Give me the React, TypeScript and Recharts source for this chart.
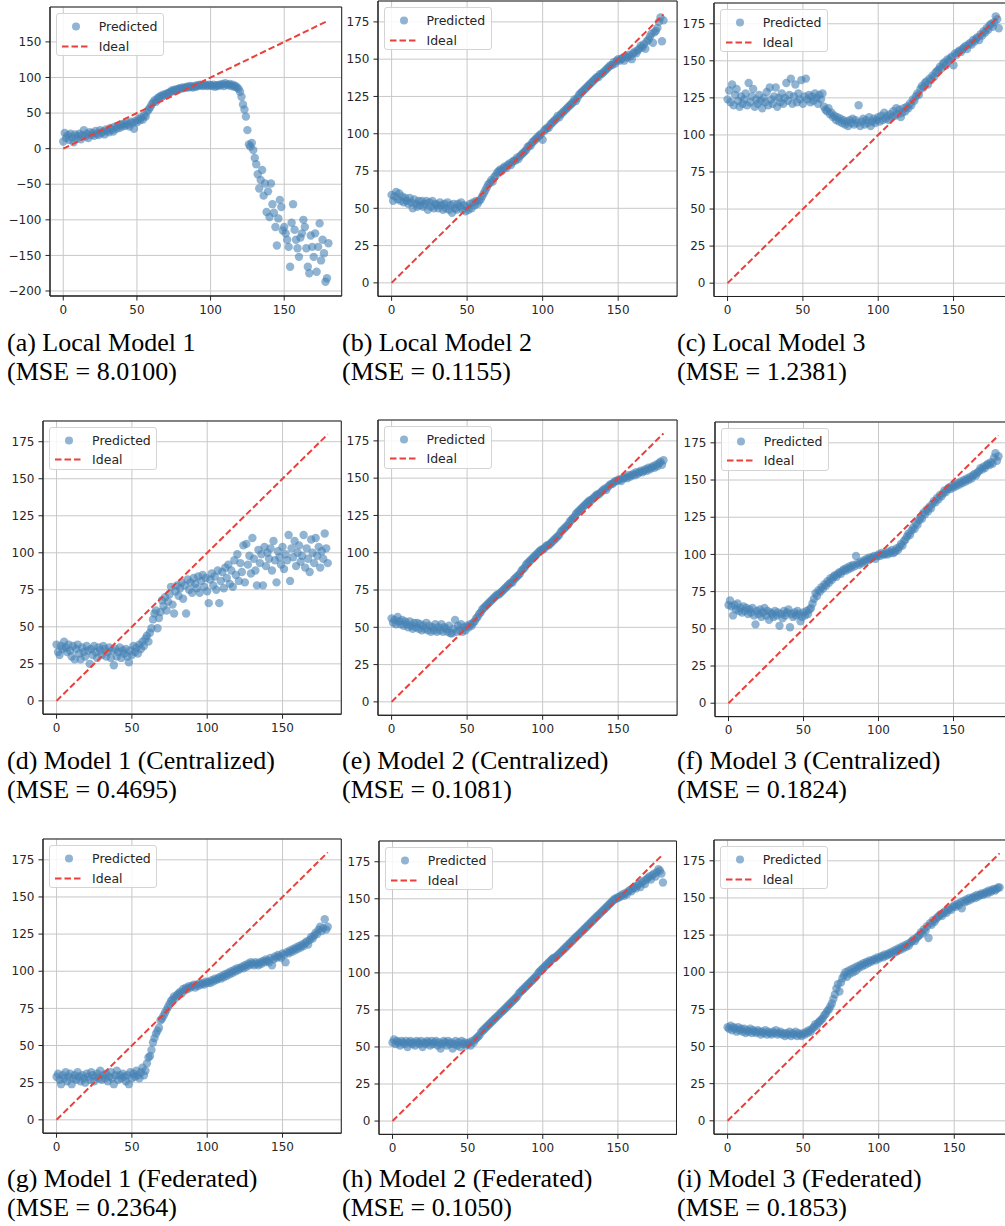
import React from 'react';
import { ScatterChart, Scatter, XAxis, YAxis, CartesianGrid, Legend, ReferenceArea } from 'recharts';

// ---------- data ----------
const XS = [
  0, 1, 2, 3, 4, 5, 6, 7, 8, 9, 10, 11, 12, 13, 14, 15, 16, 17, 18, 19, 20,
  21, 22, 23, 24, 25, 26, 27, 28, 29, 30, 31, 32, 33, 34, 35, 36, 37, 38, 39, 40,
  41, 42, 43, 44, 45, 46, 47, 48, 49, 50, 51, 52, 53, 54, 55, 56, 57, 58, 59, 60,
  61, 62, 63, 64, 65, 66, 67, 68, 69, 70, 71, 72, 73, 74, 75, 76, 77, 78, 79, 80,
  81, 82, 83, 84, 85, 86, 87, 88, 89, 90, 91, 92, 93, 94, 95, 96, 97, 98, 99, 100,
  101, 102, 103, 104, 105, 106, 107, 108, 109, 110, 111, 112, 113, 114, 115, 116, 117, 118, 119, 120,
  121, 122, 123, 124, 125, 126, 127, 128, 129, 130, 131, 132, 133, 134, 135, 136, 137, 138, 139, 140,
  141, 142, 143, 144, 145, 146, 147, 148, 149, 150, 151, 152, 153, 154, 155, 156, 157, 158, 159, 160,
  161, 162, 163, 164, 165, 166, 167, 168, 169, 170, 171, 172, 173, 174, 175, 176, 177, 178, 179, 180,
];

// (a) Local Model 1
const Y_A = [
  10, 22, 15, 19, 12, 21, 16, 9, 20, 14, 18,
  21, 13, 19, 26, 17, 21, 15, 23, 19, 22,
  18, 25, 21, 19, 26, 22, 24, 20, 27, 25,
  23, 29, 26, 24, 31, 28, 32, 29, 34, 31,
  35, 32, 37, 34, 31, 38, 36, 28, 39, 37,
  42, 40, 44, 41, 47, 45, 52, 55, 58, 62,
  65, 68, 66, 71, 72, 74, 73, 76, 75, 77,
  78, 79, 80, 82, 81, 83, 82, 84, 85, 84,
  86, 85, 86, 87, 86, 88, 87, 86, 88, 87,
  89, 88, 90, 89, 88, 90, 89, 88, 90, 89,
  88, 90, 87, 89, 88, 90, 89, 91, 88, 92,
  90, 89, 91, 88, 90, 87, 88,
  86, 84, 80, 73, 62, 55, 45, 26, 6, 3, 8, -2, -13,
  -22, -36, -56, -44, -30, -66, -49, -89, -60, -96,
  -49, -78, -90, -110, -136, -98, -72, -82, -115, -110,
  -119, -128, -138, -166, -104, -78, -114, -128, -140, -152,
  -125, -119, -100, -110, -140, -166, -175, -122, -138, -152,
  -119, -173, -138, -105, -157, -128, -147, -187, -182, -133,
];

// (b) Local Model 2
const Y_B = [
  59, 55, 58, 61, 56, 60, 55, 58, 54, 57, 55,
  53, 57, 54, 50, 56, 53, 51, 55, 52, 55,
  51, 53, 55, 49, 54, 51, 55, 50, 53, 52,
  50, 54, 52, 49, 53, 50, 54, 49, 52, 47,
  53, 50, 49, 53, 51, 54, 49, 52, 48, 51,
  49, 53, 50, 54, 52, 55, 53, 55, 56, 58,
  60, 62, 64, 66, 67, 69, 68, 71, 72, 74,
  75, 76, 75, 77, 78, 77, 79, 80, 79, 81,
  82, 82, 84, 83, 85, 86, 87, 88, 89, 91,
  92, 92, 94, 95, 96, 97, 98, 99, 100, 96,
  102, 103, 104, 104, 106, 107, 108, 109, 110, 112,
  111, 113, 114, 115, 116, 117, 118, 119, 120, 121,
  123, 122, 124, 126, 127, 128, 129, 130, 131, 132,
  133, 134, 135, 136, 137, 138, 138, 140, 140, 141,
  142, 143, 144, 145, 146, 146, 148, 147, 149, 150,
  149, 150, 151, 149, 152, 151, 153, 152, 150, 154,
  155, 154, 156, 157, 159, 158, 160, 157, 162, 163,
  165, 167, 161, 168, 169, 171, 175, 178, 162, 176,
];

// (c) Local Model 3
const Y_C = [
  124, 130, 122, 134, 120, 127, 131, 123, 119, 126, 121,
  124, 128, 120, 135, 122, 126, 131, 119, 124, 121,
  127, 123, 118, 125, 122, 129, 120, 132, 124, 121,
  126, 132, 119, 125, 122, 128, 121, 125, 135, 123,
  127, 138, 121, 126, 134, 122, 128, 124, 137, 121,
  126, 138, 124, 127, 122, 126, 123, 128, 125, 121,
  127, 124, 128, 119, 117, 116, 118, 114, 115, 112,
  113, 110, 112, 109, 111, 108, 110, 107, 109, 106,
  110, 108, 111, 107, 110, 108, 120, 106, 109, 111,
  107, 110, 108, 112, 106, 109, 111, 108, 110, 112,
  109, 113, 110, 115, 111, 113, 110, 114, 112, 116,
  113, 118, 114, 117, 112, 115, 118, 116, 119, 118,
  121, 120, 124, 123, 126, 128, 127, 131, 133, 132,
  135, 136, 134, 138, 137, 140, 139, 142, 143, 144,
  146, 145, 148, 149, 147, 151, 150, 152, 153, 147,
  155, 154, 156, 157, 156, 158, 159, 160, 158, 161,
  162, 161, 164, 163, 165, 166, 164, 168, 167, 170,
  169, 172, 171, 174, 175, 173, 176, 180, 178, 172,
];

// (d) Model 1 (Centralized)
const Y_D = [
  38, 33, 31, 37, 35, 40, 36, 33, 38, 34, 30,
  37, 28, 35, 38, 32, 28, 36, 33, 30, 37,
  34, 25, 35, 31, 37, 33, 29, 36, 34, 31,
  37, 35, 30, 33, 36, 29, 34, 24, 35, 30,
  33, 36, 29, 34, 32, 35, 30, 26, 34, 31,
  37, 33, 36, 32, 38, 35, 40, 37, 42, 44,
  40, 46, 49, 55, 59, 61, 49, 56, 60, 68,
  64, 70, 61, 67, 72, 77, 65, 59, 74, 78,
  71, 76, 80, 69, 78, 59, 82, 75, 80, 73,
  83, 79, 76, 84, 73, 81, 85, 77, 83, 74,
  66, 82, 86, 78, 84, 75, 88, 66, 81, 87,
  76, 90, 83, 92, 79, 88, 77, 95, 85, 99,
  81, 93, 87, 105, 80, 106, 92, 98, 86, 110,
  96, 88, 78, 102, 93, 99, 78, 104, 91, 100,
  96, 103, 88, 108, 95, 80, 101, 97, 92, 104,
  89, 99, 95, 112, 81, 103, 97, 108, 91, 100,
  105, 94, 98, 112, 90, 103, 96, 87, 109, 100,
  93, 110, 98, 104, 90, 101, 96, 113, 103, 93,
];

// (e) Model 2 (Centralized)
const Y_E = [
  56, 53, 55, 52, 57, 54, 52, 55, 51, 54, 52,
  50, 54, 51, 49, 53, 50, 53, 49, 52, 48,
  51, 49, 53, 48, 51, 47, 50, 48, 52, 47,
  50, 48, 52, 47, 50, 49, 47, 51, 46, 46,
  49, 55, 47, 51, 48, 52, 47, 50, 48, 51,
  50, 52, 51, 53, 54, 56, 57, 59, 60, 62,
  63, 64, 65, 66, 67, 68, 69, 70, 71, 72,
  72, 73, 74, 75, 76, 77, 78, 79, 80, 80,
  82, 83, 84, 85, 86, 88, 89, 90, 92, 93,
  94, 95, 96, 97, 98, 99, 100, 101, 102, 102,
  103, 104, 105, 105, 106, 107, 108, 109, 110, 111,
  112, 114, 115, 116, 117, 118, 119, 121, 122, 123,
  124, 126, 127, 128, 129, 130, 131, 132, 133, 134,
  135, 135, 136, 137, 138, 139, 139, 140, 141, 142,
  143, 142, 144, 145, 146, 146, 147, 148, 148, 149,
  149, 148, 150, 150, 151, 150, 152, 151, 152, 153,
  152, 154, 153, 154, 155, 154, 155, 156, 155, 157,
  156, 157, 158, 157, 159, 158, 160, 161, 159, 162,
];

// (f) Model 3 (Centralized)
const Y_F = [
  66, 69, 65, 59, 66, 63, 67, 62, 64, 61, 65,
  62, 64, 60, 63, 61, 64, 59, 53, 62, 60,
  63, 58, 61, 64, 59, 62, 56, 61, 60, 58,
  62, 59, 61, 52, 60, 57, 62, 59, 61, 63,
  51, 60, 58, 61, 59, 62, 60, 55, 58, 61,
  59, 62, 60, 63, 64, 67, 70, 74, 72, 76,
  75, 78, 77, 80, 79, 82, 81, 84, 83, 85,
  86, 85, 87, 88, 87, 89, 90, 89, 91, 90,
  92, 91, 93, 92, 99, 94, 93, 95, 94, 96,
  95, 97, 96, 98, 97, 98, 99, 97, 99, 100,
  99, 101, 100, 100, 101, 100, 102, 101, 103, 101,
  102, 104, 103, 105, 107, 106, 109, 110, 112, 114,
  113, 116, 118, 117, 121, 120, 123, 125, 124, 128,
  127, 130, 129, 132, 131, 134, 136, 135, 138, 137,
  140, 139, 141, 143, 142, 144, 145, 144, 146, 145,
  147, 146, 148, 147, 149, 148, 150, 149, 151, 150,
  152, 151, 153, 154, 153, 155, 156, 158, 157, 159,
  158, 160, 161, 160, 162, 161, 165, 168, 163, 166,
];

// (g) Model 1 (Federated)
const Y_G = [
  29, 31, 27, 24, 30, 28, 32, 26, 29, 31, 24,
  28, 30, 27, 32, 29, 26, 30, 28, 25, 31,
  29, 27, 32, 30, 26, 29, 31, 28, 33, 27,
  30, 28, 31, 26, 29, 32, 28, 24, 30, 33,
  27, 30, 28, 31, 29, 26, 30, 24, 32, 28,
  31, 29, 33, 30, 28, 32, 35, 30, 33, 38,
  42, 43, 47, 52, 55, 58, 60, 62, 67, 68,
  70, 72, 74, 76, 78, 80, 81, 83, 82, 84,
  85, 86, 85, 88, 87, 89, 88, 90, 89, 90,
  91, 89, 91, 90, 92, 91, 92, 91, 93, 92,
  93, 92, 94, 93, 95, 94, 95, 96, 95, 97,
  96, 98, 97, 99, 98, 100, 99, 101, 100, 102,
  101, 102, 103, 102, 104, 103, 105, 104, 106, 105,
  104, 106, 105, 104, 106, 105, 107, 106, 108, 107,
  106, 109, 104, 108, 110, 109, 111, 110, 109, 112,
  111, 106, 113, 112, 114, 113, 115, 114, 116, 115,
  117, 116, 118, 117, 119, 120, 118, 121, 123, 122,
  124, 126, 125, 128, 130, 127, 129, 135, 128, 130,
];

// (h) Model 2 (Federated)
const Y_H = [
  53, 55, 52, 54, 53, 51, 54, 53, 52, 54, 50,
  53, 54, 52, 53, 51, 54, 53, 52, 54, 50,
  53, 52, 54, 53, 51, 54, 52, 53, 54, 51,
  53, 49, 52, 54, 53, 51, 54, 52, 53, 49,
  52, 54, 51, 53, 50, 54, 52, 53, 51, 52,
  53, 51, 54, 53, 55, 56, 57, 58, 60, 61,
  62, 63, 64, 65, 66, 67, 68, 69, 70, 71,
  72, 73, 74, 75, 76, 77, 78, 79, 80, 81,
  82, 83, 84, 86, 87, 88, 89, 90, 91, 92,
  93, 94, 95, 96, 97, 98, 100, 101, 102, 103,
  104, 105, 106, 107, 108, 109, 110, 110, 111, 112,
  113, 114, 115, 116, 117, 118, 119, 120, 121, 122,
  123, 124, 125, 126, 127, 128, 129, 130, 131, 132,
  133, 134, 135, 136, 137, 138, 139, 140, 141, 142,
  143, 144, 145, 146, 147, 148, 149, 150, 150, 151,
  151, 152, 153, 152, 154, 153, 155, 156, 155, 157,
  158, 157, 159, 160, 158, 161, 162, 160, 163, 164,
  165, 163, 166, 167, 165, 168, 170, 169, 167, 161,
];

// (i) Model 3 (Federated)
const Y_I = [
  63, 62, 64, 61, 63, 62, 60, 63, 61, 62, 60,
  62, 59, 61, 60, 62, 59, 61, 60, 59, 61,
  60, 58, 60, 59, 61, 58, 60, 59, 58, 60,
  59, 61, 58, 59, 60, 58, 59, 57, 59, 58,
  60, 57, 59, 58, 60, 57, 59, 58, 57, 59,
  58, 60, 59, 61, 60, 62, 63, 65, 64, 66,
  67, 68, 69, 71, 72, 74, 75, 77, 79, 82,
  85, 89, 92, 87, 93, 96, 98, 100, 97, 101,
  99, 102, 100, 103, 101, 104, 103, 105, 104, 106,
  105, 107, 106, 108, 107, 108, 109, 108, 110, 109,
  110, 111, 110, 112, 111, 112, 113, 112, 114, 113,
  115, 114, 116, 115, 117, 116, 118, 117, 119, 118,
  120, 121, 122, 121, 123, 124, 125, 127, 126, 129,
  128, 131, 123, 133, 132, 135, 134, 136, 137, 138,
  139, 138, 140, 141, 140, 142, 143, 142, 144, 145,
  144, 146, 145, 147, 143, 148, 147, 149, 148, 150,
  149, 150, 151, 150, 152, 151, 152, 153, 152, 153,
  154, 153, 155, 154, 155, 156, 155, 156, 157, 157,
];

const IDEAL_X = [0, 180];
const IDEAL_Y = [0, 180];

const SERIES = [Y_A, Y_B, Y_C, Y_D, Y_E, Y_F, Y_G, Y_H, Y_I];
const X_TICKS = [0, 50, 100, 150];
const Y_TICKS = [0, 25, 50, 75, 100, 125, 150, 175];
const Y_TICKS_A = [-200, -150, -100, -50, 0, 50, 100, 150];
const X_DOMAIN = [-9, 189];
const Y_DOMAIN = [-9, 189];
const Y_DOMAIN_A = [-207, 199];

const CAPTIONS = [
  '(a) Local Model 1',
  '(b) Local Model 2',
  '(c) Local Model 3',
  '(d) Model 1 (Centralized)',
  '(e) Model 2 (Centralized)',
  '(f) Model 3 (Centralized)',
  '(g) Model 1 (Federated)',
  '(h) Model 2 (Federated)',
  '(i) Model 3 (Federated)',
];
const MSE = ['8.0100', '0.1155', '1.2381', '0.4695', '0.1081', '0.1824', '0.2364', '0.1050', '0.1853'];
const NAME_PRED = 'Predicted';
const NAME_IDEAL = 'Ideal';

// ---------- layout / style ----------
const LAYOUT = [
  { col: 0, row: 0, left: 49.7, top: 7, w: 291.7, h: 289 },
  { col: 1, row: 0, left: 377.5, top: 1.1, w: 299.1, h: 295.3 },
  { col: 2, row: 0, left: 713.7, top: 3, w: 298.3, h: 293.5 },
  { col: 0, row: 1, left: 43.1, top: 420.5, w: 298.3, h: 293.2 },
  { col: 1, row: 1, left: 377.5, top: 419.8, w: 299.1, h: 295.3 },
  { col: 2, row: 1, left: 714.8, top: 421.5, w: 297, h: 294.6 },
  { col: 0, row: 2, left: 43.1, top: 839.2, w: 298.3, h: 294.2 },
  { col: 1, row: 2, left: 378.8, top: 841, w: 297.5, h: 293.4 },
  { col: 2, row: 2, left: 713.7, top: 840.2, w: 299.2, h: 294.2 },
];
const COL_CLIP = [[0, 342.5], [342.5, 678], [678, 1005]];
const ROW_CLIP = [[0, 330], [400, 745], [820, 1160]];
const CAPTION_TOP = [327.5, 745.5, 1163.5];
const CAPTION_LEFT = [7, 342, 677];

const BLUE = '#4682b4';
const RED = '#e8403a';
const DASH = '6.5 3';
const AXIS_COLOR = '#222222';
const GRID_COLOR = '#c8c8c8';
const TICK_FONT = '"DejaVu Sans", Verdana, sans-serif';
const TICK_STYLE = { fontSize: 12, fill: '#262626', fontFamily: TICK_FONT };
const DOT_R = 4.2;

const fmt = (v: number) => (v < 0 ? '\u2212' + Math.abs(v) : String(v));

const Dot = (p: any) => <circle cx={p.cx} cy={p.cy} r={DOT_R} fill={BLUE} fillOpacity={0.6} />;
const NoDot = () => <g />;

const LegendBox = () => (
  <div
    style={{
      width: 108,
      height: 43,
      boxSizing: 'border-box',
      border: '1px solid #d4d4d4',
      borderRadius: 3,
      background: 'rgba(255,255,255,0.85)',
      position: 'relative',
      fontFamily: TICK_FONT,
      fontSize: 12.5,
      color: '#262626',
    }}
  >
    <div style={{ position: 'absolute', left: 0, top: 3, height: 19, display: 'flex', alignItems: 'center' }}>
      <svg width={42} height={19} style={{ display: 'block' }}>
        <circle cx={19} cy={9.5} r={4} fill={BLUE} fillOpacity={0.6} />
      </svg>
      <span style={{ whiteSpace: 'nowrap' }}>{NAME_PRED}</span>
    </div>
    <div style={{ position: 'absolute', left: 0, top: 22.5, height: 19, display: 'flex', alignItems: 'center' }}>
      <svg width={42} height={19} style={{ display: 'block' }}>
        <line x1={5} x2={31} y1={9.5} y2={9.5} stroke={RED} strokeWidth={2} strokeDasharray={DASH} />
      </svg>
      <span style={{ whiteSpace: 'nowrap' }}>{NAME_IDEAL}</span>
    </div>
  </div>
);

const ML = 50;
const MT = 6;
const MR = 4;
const MB = 32;

function Panel({ idx }: { idx: number }) {
  const L = LAYOUT[idx];
  const [cx0, cx1] = COL_CLIP[L.col];
  const [ry0, ry1] = ROW_CLIP[L.row];
  const W = L.w + ML + MR;
  const H = L.h + MT + MB;
  const ys = SERIES[idx];
  const pred = XS.map((x, i) => ({ x, y: ys[i] }));
  const ideal = IDEAL_X.map((x, i) => ({ x, y: IDEAL_Y[i] }));
  const isA = idx === 0;
  const yDomain = isA ? Y_DOMAIN_A : Y_DOMAIN;
  const yTicks = isA ? Y_TICKS_A : Y_TICKS;
  return (
    <div style={{ position: 'absolute', left: cx0, top: ry0, width: cx1 - cx0, height: ry1 - ry0, overflow: 'hidden' }}>
      <div style={{ position: 'absolute', left: L.left - ML - cx0, top: L.top - MT - ry0 }}>
        <ScatterChart width={W} height={H} margin={{ top: MT, right: MR, bottom: 0, left: 0 }}>
          <CartesianGrid stroke={GRID_COLOR} strokeWidth={1} />
          <XAxis
            type="number"
            dataKey="x"
            domain={X_DOMAIN}
            ticks={X_TICKS}
            allowDataOverflow
            interval={0}
            height={MB}
            tick={TICK_STYLE}
            tickSize={4.5}
            tickMargin={4.5}
            tickLine={{ stroke: AXIS_COLOR }}
            axisLine={{ stroke: AXIS_COLOR }}
            tickFormatter={fmt}
          />
          <YAxis
            type="number"
            dataKey="y"
            domain={yDomain}
            ticks={yTicks}
            allowDataOverflow
            interval={0}
            width={ML}
            tick={TICK_STYLE}
            tickSize={4.5}
            tickMargin={4}
            tickLine={{ stroke: AXIS_COLOR }}
            axisLine={{ stroke: AXIS_COLOR }}
            tickFormatter={fmt}
          />
          <ReferenceArea
            x1={X_DOMAIN[0]}
            x2={X_DOMAIN[1]}
            y1={yDomain[0]}
            y2={yDomain[1]}
            fill="none"
            fillOpacity={0}
            stroke={AXIS_COLOR}
            strokeWidth={1}
            ifOverflow="visible"
          />
          <Scatter name={NAME_PRED} data={pred} fill={BLUE} shape={Dot} isAnimationActive={false} />
          <Scatter
            name={NAME_IDEAL}
            data={ideal}
            fill={RED}
            line={{ stroke: RED, strokeWidth: 2, strokeDasharray: DASH }}
            lineType="joint"
            shape={NoDot}
            legendType="line"
            isAnimationActive={false}
          />
          <Legend
            layout="vertical"
            align="center"
            verticalAlign="middle"
            content={() => <LegendBox />}
            wrapperStyle={{ position: 'absolute', left: ML + 6, top: MT + 6, width: 108, height: 43 }}
          />
        </ScatterChart>
      </div>
    </div>
  );
}

function Caption({ idx }: { idx: number }) {
  const L = LAYOUT[idx];
  return (
    <div
      style={{
        position: 'absolute',
        left: CAPTION_LEFT[L.col],
        top: CAPTION_TOP[L.row],
        fontFamily: '"Liberation Serif", "Times New Roman", serif',
        fontSize: 26,
        lineHeight: '29px',
        color: '#000',
        whiteSpace: 'nowrap',
      }}
    >
      <div>{CAPTIONS[idx]}</div>
      <div>{`(MSE = ${MSE[idx]})`}</div>
    </div>
  );
}

export default function App() {
  return (
    <div style={{ position: 'absolute', left: 0, top: 0, width: 1005, height: 1226, overflow: 'hidden', background: '#fff' }}>
      {LAYOUT.map((_, i) => (
        <Panel key={'p' + i} idx={i} />
      ))}
      {LAYOUT.map((_, i) => (
        <Caption key={'c' + i} idx={i} />
      ))}
    </div>
  );
}
